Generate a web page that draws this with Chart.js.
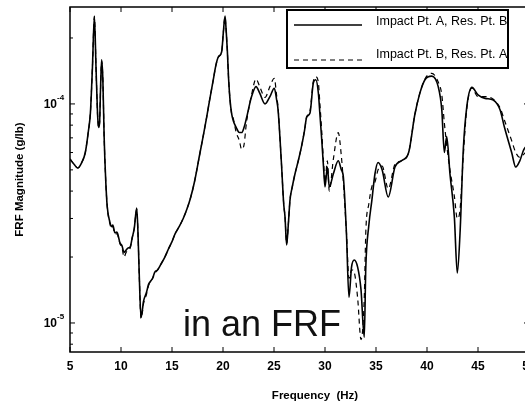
<!DOCTYPE html>
<html>
<head>
<meta charset="utf-8">
<script src="https://cdn.jsdelivr.net/npm/chart.js@4.4.1/dist/chart.umd.min.js"></script>
<style>
  html, body { margin: 0; padding: 0; background: #fff; overflow: hidden; }
  #wrap { width: 525px; height: 407px; overflow: hidden; }
</style>
</head>
<body>
<div id="wrap"><canvas id="frf" width="535" height="407"></canvas></div>
<script>
// frequency points (Hz) and the two measured FRF magnitudes (g/lb)
const freq = [
  5.0, 5.4, 5.75, 6.15, 6.5, 6.8, 7.0, 7.2, 7.39, 7.55, 7.7, 7.8, 7.9, 8.0, 8.1, 8.22, 8.35, 8.5, 8.65, 8.9,
  9.1, 9.2, 9.4, 9.6, 9.9, 10.1, 10.3, 10.5, 10.7, 10.9, 11.1, 11.3, 11.54, 11.65, 11.8, 11.96, 12.1, 12.2, 12.5, 12.7,
  12.9, 13.1, 13.3, 13.6, 13.9, 14.3, 14.7, 15.0, 15.3, 15.7, 16.1, 16.5, 16.8, 17.2, 17.75, 18.1, 18.4, 18.7, 19.05, 19.3,
  19.55, 19.87, 20.03, 20.2, 20.3, 20.42, 20.55, 20.69, 20.85, 21.0, 21.3, 21.6, 21.83, 22.06, 22.3, 22.8, 23.24, 23.6, 24.12, 24.6,
  25.03, 25.25, 25.4, 25.6, 25.75, 25.95, 26.08, 26.24, 26.4, 26.57, 26.8, 27.06, 27.38, 27.7, 28.0, 28.2, 28.53, 28.86, 29.1, 29.35,
  29.5, 29.68, 29.85, 30.0, 30.23, 30.42, 30.82, 31.3, 31.6, 31.8, 32.1, 32.35, 32.6, 32.87, 33.2, 33.53, 33.85, 34.0, 34.3, 34.6,
  34.9, 35.2, 35.6, 36.2, 36.86, 37.5, 38.2, 38.8, 39.3, 39.8, 40.46, 41.1, 41.45, 41.7, 41.93, 42.25, 42.68, 42.97, 43.24, 43.56,
  43.9, 44.4, 45.0, 45.7, 46.5, 47.16, 47.6, 48.3, 48.7, 49.1, 49.5, 50.0
];

const respAB = [
  5.6e-5, 5.3e-5, 5.1e-5, 5.4e-5, 6.0e-5, 7.5e-5, 9.1e-5, 1.47e-4, 2.52e-4, 1.47e-4, 9.0e-5, 7.8e-5, 8.2e-5, 1.2e-4, 1.59e-4, 1.3e-4, 7.0e-5, 4.5e-5, 3.4e-5, 2.9e-5,
  2.75e-5, 2.8e-5, 2.58e-5, 2.6e-5, 2.32e-5, 2.25e-5, 2.1e-5, 2.15e-5, 2.2e-5, 2.22e-5, 2.45e-5, 2.7e-5, 3.35e-5, 2.7e-5, 1.6e-5, 1.06e-5, 1.15e-5, 1.25e-5, 1.38e-5, 1.5e-5,
  1.55e-5, 1.6e-5, 1.7e-5, 1.75e-5, 1.85e-5, 2.0e-5, 2.2e-5, 2.35e-5, 2.55e-5, 2.75e-5, 3.0e-5, 3.35e-5, 3.7e-5, 4.4e-5, 6.0e-5, 7.3e-5, 8.7e-5, 1.05e-4, 1.29e-4, 1.5e-4,
  1.64e-4, 1.73e-4, 2.11e-4, 2.52e-4, 2.2e-4, 1.77e-4, 1.3e-4, 1.04e-4, 9.0e-5, 8.4e-5, 7.8e-5, 7.4e-5, 7.4e-5, 7.8e-5, 8.6e-5, 1.08e-4, 1.2e-4, 1.12e-4, 1.0e-4, 1.08e-4,
  1.18e-4, 1.05e-4, 9.4e-5, 6.8e-5, 5.15e-5, 3.5e-5, 3.05e-5, 2.27e-5, 2.8e-5, 3.65e-5, 4.2e-5, 4.8e-5, 5.5e-5, 6.4e-5, 7.6e-5, 8.7e-5, 9.1e-5, 1.25e-4, 1.29e-4, 1.12e-4,
  9.0e-5, 6.86e-5, 5.2e-5, 4.18e-5, 5.15e-5, 4.18e-5, 4.8e-5, 5.5e-5, 5.0e-5, 4.64e-5, 2.58e-5, 1.31e-5, 1.8e-5, 1.94e-5, 1.8e-5, 1.42e-5, 8.6e-6, 1.8e-5, 2.8e-5, 3.65e-5,
  4.8e-5, 5.4e-5, 5.0e-5, 3.76e-5, 5.15e-5, 5.5e-5, 6.0e-5, 8.9e-5, 1.12e-4, 1.29e-4, 1.34e-4, 1.2e-4, 9.4e-5, 6.0e-5, 7.1e-5, 4.8e-5, 3.05e-5, 1.69e-5, 2.58e-5, 6.2e-5,
  9.7e-5, 1.19e-4, 1.1e-4, 1.06e-4, 1.04e-4, 9.4e-5, 7.8e-5, 6.0e-5, 5.15e-5, 5.5e-5, 6.2e-5, 6.5e-5
];

const respBA = [
  5.6e-5, 5.3e-5, 5.1e-5, 5.4e-5, 6.0e-5, 7.5e-5, 9.1e-5, 1.47e-4, 2.5e-4, 1.47e-4, 9.0e-5, 7.8e-5, 8.2e-5, 1.2e-4, 1.57e-4, 1.3e-4, 7.0e-5, 4.5e-5, 3.4e-5, 2.85e-5,
  2.7e-5, 2.75e-5, 2.55e-5, 2.55e-5, 2.3e-5, 2.2e-5, 2.0e-5, 2.1e-5, 2.15e-5, 2.2e-5, 2.45e-5, 2.7e-5, 3.3e-5, 2.7e-5, 1.6e-5, 1.05e-5, 1.12e-5, 1.22e-5, 1.35e-5, 1.48e-5,
  1.55e-5, 1.6e-5, 1.68e-5, 1.75e-5, 1.85e-5, 2.0e-5, 2.2e-5, 2.35e-5, 2.55e-5, 2.75e-5, 3.0e-5, 3.35e-5, 3.7e-5, 4.4e-5, 6.0e-5, 7.3e-5, 8.7e-5, 1.05e-4, 1.29e-4, 1.5e-4,
  1.64e-4, 1.73e-4, 2.11e-4, 2.5e-4, 2.2e-4, 1.77e-4, 1.3e-4, 1.04e-4, 9.0e-5, 8.6e-5, 7.4e-5, 6.8e-5, 6.2e-5, 6.5e-5, 8.2e-5, 1.1e-4, 1.3e-4, 1.2e-4, 1.07e-4, 1.2e-4,
  1.31e-4, 1.1e-4, 9.6e-5, 6.8e-5, 5.15e-5, 3.5e-5, 3.05e-5, 2.3e-5, 2.8e-5, 3.65e-5, 4.2e-5, 4.8e-5, 5.5e-5, 6.4e-5, 7.6e-5, 8.7e-5, 9.3e-5, 1.27e-4, 1.33e-4, 1.25e-4,
  1.0e-4, 7.5e-5, 5.5e-5, 4.4e-5, 5.5e-5, 4.0e-5, 5.6e-5, 7.4e-5, 5.8e-5, 4.4e-5, 2.6e-5, 1.6e-5, 1.75e-5, 1.7e-5, 1.3e-5, 8.4e-6, 1.3e-5, 2.6e-5, 3.5e-5, 4.2e-5,
  4.4e-5, 5.0e-5, 5.2e-5, 4.1e-5, 5.3e-5, 5.5e-5, 6.0e-5, 8.9e-5, 1.12e-4, 1.3e-4, 1.38e-4, 1.26e-4, 1.1e-4, 8.2e-5, 6.5e-5, 5.0e-5, 3.8e-5, 3.0e-5, 3.3e-5, 5.8e-5,
  9.5e-5, 1.18e-4, 1.08e-4, 1.08e-4, 1.05e-4, 9.6e-5, 8.4e-5, 6.8e-5, 6.0e-5, 5.7e-5, 5.9e-5, 6.2e-5
];

const seriesLabels = ["Impact Pt. A, Res. Pt. B", "Impact Pt. B, Res. Pt. A"];
const xTicks = [5, 10, 15, 20, 25, 30, 35, 40, 45, 50];
const yMajor = [1e-5, 1e-4];
const yMajorExp = ["-5", "-4"];
const yMinor = [8e-6, 9e-6, 2e-5, 3e-5, 4e-5, 5e-5, 6e-5, 7e-5, 8e-5, 9e-5, 2e-4];
const overlayText = "in an FRF";

const font = '"Liberation Sans", Arial, Helvetica, sans-serif';

// frame, inward ticks, tick labels, titles and legend (MATLAB look)
const framePlugin = {
  id: 'frame',
  afterDraw(chart) {
    const ctx = chart.ctx;
    const a = chart.chartArea;
    const xs = chart.scales.x;
    const ys = chart.scales.y;
    ctx.save();
    ctx.strokeStyle = '#000';
    ctx.lineWidth = 1.5;
    ctx.strokeRect(a.left, a.top, a.right - a.left, a.bottom - a.top);

    ctx.lineWidth = 1;
    ctx.beginPath();
    xTicks.forEach(v => {
      const px = xs.getPixelForValue(v);
      ctx.moveTo(px, a.bottom); ctx.lineTo(px, a.bottom - 5);
      ctx.moveTo(px, a.top); ctx.lineTo(px, a.top + 5);
    });
    yMajor.forEach(v => {
      const py = ys.getPixelForValue(v);
      ctx.moveTo(a.left, py); ctx.lineTo(a.left + 5, py);
      ctx.moveTo(a.right, py); ctx.lineTo(a.right - 5, py);
    });
    yMinor.forEach(v => {
      const py = ys.getPixelForValue(v);
      ctx.moveTo(a.left, py); ctx.lineTo(a.left + 3, py);
      ctx.moveTo(a.right, py); ctx.lineTo(a.right - 3, py);
    });
    ctx.stroke();

    // y tick labels 10^n
    ctx.fillStyle = '#000';
    ctx.textBaseline = 'middle';
    yMajor.forEach((v, i) => {
      const py = ys.getPixelForValue(v);
      ctx.font = 'bold 12px ' + font;
      ctx.textAlign = 'right';
      ctx.fillText('10', 57, py + 1);
      ctx.font = 'bold 8px ' + font;
      ctx.textAlign = 'left';
      ctx.fillText(yMajorExp[i], 57, py - 6);
    });

    // axis titles
    ctx.font = 'bold 11.5px ' + font;
    ctx.textAlign = 'center';
    ctx.fillText('Frequency  (Hz)', 315, 396);
    ctx.save();
    ctx.translate(20, (a.top + a.bottom) / 2);
    ctx.rotate(-Math.PI / 2);
    ctx.font = 'bold 11.5px ' + font;
    ctx.fillText('FRF Magnitude (g/lb)', 0, 0);
    ctx.restore();

    // legend box
    const lx = 287, ly = 10, lw = 221, lh = 58;
    ctx.fillStyle = '#fff';
    ctx.fillRect(lx, ly, lw, lh);
    ctx.lineWidth = 2;
    ctx.strokeRect(lx, ly, lw, lh);
    ctx.lineWidth = 1.6;
    ctx.beginPath();
    ctx.moveTo(294, 25); ctx.lineTo(362, 25);
    ctx.stroke();
    ctx.setLineDash([5, 4]);
    ctx.lineWidth = 1.2;
    ctx.beginPath();
    ctx.moveTo(294, 60); ctx.lineTo(362, 60);
    ctx.stroke();
    ctx.setLineDash([]);
    ctx.fillStyle = '#000';
    ctx.font = '12.5px ' + font;
    ctx.textAlign = 'left';
    ctx.fillText(chart.data.datasets[0].label, 376, 22);
    ctx.fillText(chart.data.datasets[1].label, 376, 55);

    // overlay caption
    ctx.font = '36px ' + font;
    ctx.fillStyle = '#111';
    ctx.textBaseline = 'alphabetic';
    ctx.fillText(overlayText, 183, 336);
    ctx.restore();
  }
};

const ctx = document.getElementById('frf').getContext('2d');
new Chart(ctx, {
  type: 'line',
  data: {
    datasets: [
      {
        label: seriesLabels[0],
        data: freq.map((f, i) => ({ x: f, y: respAB[i] })),
        borderColor: '#000',
        borderWidth: 1.6,
        pointRadius: 0,
        cubicInterpolationMode: 'monotone'
      },
      {
        label: seriesLabels[1],
        data: freq.map((f, i) => ({ x: f, y: respBA[i] })),
        borderColor: '#000',
        borderWidth: 1.2,
        borderDash: [5, 4],
        pointRadius: 0,
        cubicInterpolationMode: 'monotone'
      }
    ]
  },
  options: {
    responsive: false,
    animation: false,
    layout: { padding: { top: 7, right: 6, left: 0, bottom: 0 } },
    plugins: { legend: { display: false }, tooltip: { enabled: false } },
    scales: {
      x: {
        type: 'linear',
        min: 5,
        max: 50,
        grid: { display: false, drawTicks: false },
        border: { display: false },
        afterBuildTicks: s => { s.ticks = xTicks.map(v => ({ value: v })); },
        afterFit: s => { s.height = 55; s.paddingLeft = 0; s.paddingRight = 0; },
        ticks: {
          color: '#000',
          padding: 7,
          maxRotation: 0,
          autoSkip: false,
          font: { family: font, size: 12, weight: 'bold' }
        }
      },
      y: {
        type: 'logarithmic',
        min: 7.37e-6,
        max: 2.77e-4,
        grid: { display: false, drawTicks: false },
        border: { display: false },
        ticks: { display: false },
        afterFit: s => { s.width = 70; s.paddingTop = 0; s.paddingBottom = 0; }
      }
    }
  },
  plugins: [framePlugin]
});
</script>
</body>
</html>
